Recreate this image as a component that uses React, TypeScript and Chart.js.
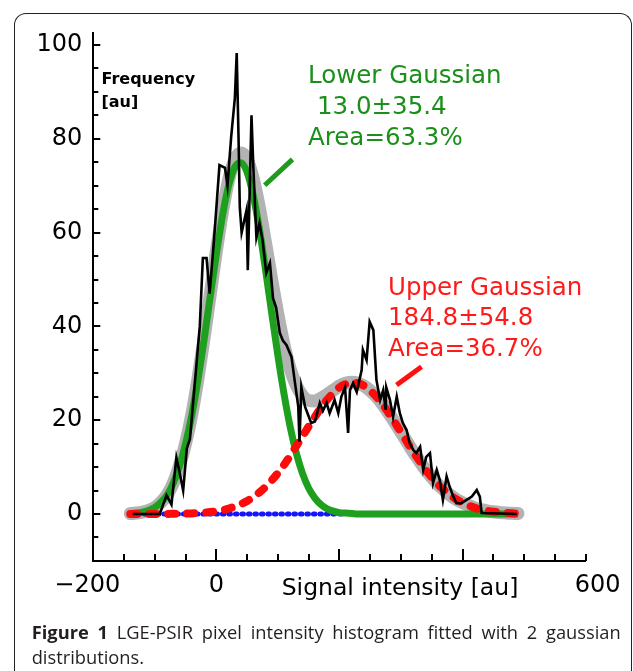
import React, { useEffect, useRef } from 'react';
import { Chart, registerables } from 'chart.js';

Chart.register(...registerables);

// ---------- data ----------
const fitX = [-140, -130, -120, -110, -100, -90, -80, -70, -60, -50, -40, -30, -20, -10, 0, 10, 20, 30, 40, 50, 60, 70, 80, 90, 100, 110, 120, 130, 140, 150, 160, 170, 180, 190, 200, 210, 220, 230, 240, 250, 260, 270, 280, 290, 300, 310, 320, 330, 340, 350, 360, 370, 380, 390, 400, 410, 420, 430, 440, 450, 460, 470, 480, 490];

const lowerGaussian = [0.1, 0.2, 0.4, 0.8, 1.4, 2.5, 4.1, 6.6, 10.2, 15.0, 21.1, 28.6, 37.2, 46.4, 55.5, 63.7, 70.1, 74.0, 74.9, 72.8, 67.8, 60.6, 51.9, 42.7, 33.7, 25.5, 18.5, 12.9, 8.6, 5.5, 3.4, 2.0, 1.1, 0.6, 0.3, 0.2, 0.1, 0, 0, 0, 0, 0, 0, 0, 0, 0, 0, 0, 0, 0, 0, 0, 0, 0, 0, 0, 0, 0, 0, 0, 0, 0, 0, 0];

const upperGaussian = [0, 0, 0, 0.01, 0.01, 0.01, 0.02, 0.04, 0.06, 0.09, 0.13, 0.2, 0.29, 0.42, 0.6, 0.84, 1.16, 1.57, 2.11, 2.78, 3.6, 4.61, 5.8, 7.18, 8.75, 10.5, 12.4, 14.5, 16.6, 18.7, 20.7, 22.7, 24.4, 25.8, 27.0, 27.7, 28.0, 27.9, 27.3, 26.3, 25.0, 23.4, 21.5, 19.5, 17.4, 15.3, 13.2, 11.3, 9.4, 7.8, 6.3, 5.1, 4.0, 3.1, 2.4, 1.8, 1.3, 0.95, 0.68, 0.48, 0.33, 0.23, 0.15, 0.1];

const fitSum = [0.1, 0.2, 0.4, 0.8, 1.4, 2.5, 4.1, 6.6, 10.3, 15.1, 21.2, 28.8, 37.5, 46.8, 56.1, 64.5, 71.3, 75.6, 77.0, 75.6, 71.4, 65.2, 57.7, 49.9, 42.5, 36.0, 30.9, 27.4, 25.2, 24.2, 24.1, 24.7, 25.5, 26.4, 27.3, 27.9, 28.1, 27.9, 27.3, 26.3, 25.0, 23.4, 21.5, 19.5, 17.4, 15.3, 13.2, 11.3, 9.4, 7.8, 6.3, 5.1, 4.0, 3.1, 2.4, 1.8, 1.3, 0.95, 0.68, 0.48, 0.33, 0.23, 0.15, 0.1];

const baselineX = [-138, 210];
const baselineY = [0, 0];

const histX = [-136, -92, -81, -73, -65, -60, -54, -48, -43, -35, -27, -22, -16, -11, -3, 5, 14, 18, 24, 30, 33, 36, 38, 41, 49, 51, 57, 60, 65, 70, 75, 81, 87, 92, 97, 103, 108, 114, 122, 127, 133, 135, 138, 144, 148, 154, 160, 168, 173, 179, 184, 192, 198, 203, 209, 214, 217, 222, 228, 236, 238, 244, 249, 255, 260, 266, 271, 275, 276, 282, 287, 293, 298, 303, 309, 314, 320, 325, 331, 336, 341, 347, 352, 358, 363, 368, 374, 379, 385, 390, 398, 415, 423, 428, 431, 488];
const histY = [0, 0, 4, 2, 12, 9, 5, 14, 16, 28, 40, 54.6, 54.6, 47, 60, 74.4, 73.8, 70, 80.4, 88.7, 98.3, 80, 65.5, 60, 64.8, 52, 85, 74, 59, 62, 58.4, 51.4, 53.5, 46, 44, 38.6, 37, 36, 33.5, 28.6, 22.9, 15.4, 27, 22.9, 21.5, 19.4, 19.7, 23.7, 22, 23.7, 21.5, 24.3, 21.5, 25, 27, 17.3, 26.4, 27.9, 26, 30.7, 35, 32.8, 41, 39.2, 28.6, 24.3, 26.4, 22.2, 27, 24.3, 20.7, 25, 21.5, 19.4, 17.9, 15.1, 13.6, 13, 14.3, 9.4, 12.2, 13, 6.6, 9.4, 7.2, 3, 8, 5.8, 3.7, 2.3, 2.3, 3.7, 5.1, 3.7, 0.2, 0];

// annotation pointer strokes (data units)
const lowerPointerX = [78.5, 123.6];
const lowerPointerY = [70.1, 75.6];
const upperPointerX = [292.7, 333.3];
const upperPointerY = [27.5, 31.4];

// axes
const xTickValues = [-200, 0, 200, 400, 600];
const xTickText = ['\u2212200\u2002', '0', '', '', '\u2002\u2002600'];
const yTickValues = [0, 20, 40, 60, 80, 100];
const yTickText = ['0', '20', '40', '60', '80', '100'];
const xMinorStep = 50;
const yMinorStep = 5;

const pts = (xs: number[], ys: number[]) => xs.map((x, i) => ({ x, y: ys[i] }));

const inwardTicks = {
  id: 'inwardTicks',
  afterDraw(chart: any) {
    const { ctx, scales, chartArea } = chart;
    const xs = scales.x;
    const ys = scales.y;
    ctx.save();
    ctx.strokeStyle = '#000';
    ctx.lineWidth = 2;
    ctx.beginPath();
    for (let v = xs.min + xMinorStep; v <= xs.max + 0.001; v += xMinorStep) {
      const px = Math.round(xs.getPixelForValue(v));
      const major = v % 200 === 0 && v < xs.max;
      const len = major ? 12 : 7;
      ctx.moveTo(px, chartArea.bottom);
      ctx.lineTo(px, chartArea.bottom - len);
    }
    for (let v = -5; v <= 100.001; v += yMinorStep) {
      const py = Math.round(ys.getPixelForValue(v));
      const major = v % 20 === 0;
      const len = major ? 7 : 5;
      ctx.moveTo(chartArea.left, py);
      ctx.lineTo(chartArea.left + len, py);
    }
    ctx.stroke();
    ctx.restore();
  },
};

export default function App() {
  const ref = useRef<HTMLCanvasElement>(null);

  useEffect(() => {
    const chart = new Chart(ref.current as HTMLCanvasElement, {
      type: 'line',
      data: {
        datasets: [
          {
            label: 'Histogram',
            data: pts(histX, histY),
            borderColor: '#000',
            borderWidth: 2.6,
            pointRadius: 0,
            tension: 0,
            order: 0,
          },
          {
            label: 'Lower pointer',
            data: pts(lowerPointerX, lowerPointerY),
            borderColor: '#1e9a1e',
            borderWidth: 5,
            pointRadius: 0,
            order: 1,
          },
          {
            label: 'Upper pointer',
            data: pts(upperPointerX, upperPointerY),
            borderColor: '#ff1010',
            borderWidth: 5,
            pointRadius: 0,
            order: 1,
          },
          {
            label: 'Upper Gaussian',
            data: pts(fitX, upperGaussian),
            borderColor: '#ff0a0a',
            borderWidth: 8,
            borderDash: [7, 12],
            borderCapStyle: 'round',
            pointRadius: 0,
            cubicInterpolationMode: 'monotone',
            order: 2,
          },
          {
            label: 'Lower Gaussian',
            data: pts(fitX, lowerGaussian),
            borderColor: '#1ea01e',
            borderWidth: 7,
            pointRadius: 0,
            cubicInterpolationMode: 'monotone',
            order: 3,
          },
          {
            label: 'Baseline',
            data: pts(baselineX, baselineY),
            borderColor: '#1414ff',
            borderWidth: 5,
            borderDash: [1.5, 5],
            borderCapStyle: 'round',
            pointRadius: 0,
            order: 4,
          },
          {
            label: 'Sum',
            data: pts(fitX, fitSum),
            borderColor: '#b3b3b3',
            borderWidth: 13,
            borderCapStyle: 'round',
            pointRadius: 0,
            cubicInterpolationMode: 'monotone',
            order: 5,
          },
        ],
      },
      options: {
        responsive: false,
        animation: false,
        devicePixelRatio: 1,
        layout: { padding: { left: 0, top: 33.3, right: 47.3, bottom: 0 } },
        plugins: { legend: { display: false }, tooltip: { enabled: false } },
        scales: {
          x: {
            type: 'linear',
            min: -200,
            max: 600,
            afterFit: (s: any) => {
              s.height = 110.1;
            },
            afterBuildTicks: (s: any) => {
              s.ticks = xTickValues.map((v) => ({ value: v }));
            },
            ticks: {
              autoSkip: false,
              maxRotation: 0,
              padding: 10,
              color: '#000',
              font: { family: 'DejaVu Sans', size: 24 },
              callback: (v: any) => xTickText[xTickValues.indexOf(Number(v))] ?? '',
            },
            grid: { display: false, drawTicks: false },
            border: { display: true, color: '#000', width: 2 },
          },
          y: {
            type: 'linear',
            min: -10,
            max: 102.5,
            afterFit: (s: any) => {
              s.width = 93.3;
            },
            afterBuildTicks: (s: any) => {
              s.ticks = yTickValues.map((v) => ({ value: v }));
            },
            ticks: {
              autoSkip: false,
              padding: 11,
              color: '#000',
              font: { family: 'DejaVu Sans', size: 24 },
              callback: (v: any) => yTickText[yTickValues.indexOf(Number(v))] ?? '',
            },
            grid: { display: false, drawTicks: false },
            border: { display: true, color: '#000', width: 2 },
          },
        },
      },
      plugins: [inwardTicks],
    } as any);
    return () => chart.destroy();
  }, []);

  const green = '#1a8f1a';
  const red = '#ff1a1a';
  const annoFont: React.CSSProperties = {
    fontFamily: '"DejaVu Sans", sans-serif',
    fontSize: 24.5,
    whiteSpace: 'nowrap',
  };

  return (
    <div
      style={{
        position: 'absolute',
        left: 0,
        top: 0,
        width: 633,
        height: 671,
        overflow: 'hidden',
        background: '#fff',
      }}
    >
      <div
        style={{
          position: 'absolute',
          left: 13.5,
          top: 13,
          width: 616,
          height: 720,
          border: '1.5px solid #222',
          borderBottom: 'none',
          borderRadius: '12px 12px 0 0',
        }}
      />
      <canvas
        ref={ref}
        width={633}
        height={671}
        style={{ position: 'absolute', left: 0, top: 0, width: 633, height: 671 }}
      />
      <div
        style={{
          position: 'absolute',
          left: 101.5,
          top: 66.5,
          fontFamily: '"DejaVu Sans", sans-serif',
          fontWeight: 'bold',
          fontSize: 16,
          lineHeight: '23px',
          color: '#000',
          whiteSpace: 'nowrap',
        }}
      >
        <div>Frequency</div>
        <div>[au]</div>
      </div>
      <div style={{ position: 'absolute', left: 308, top: 58.5, lineHeight: '31px', color: green, ...annoFont }}>
        <div>Lower Gaussian</div>
        <div style={{ marginLeft: 9 }}>13.0±35.4</div>
        <div>Area=63.3%</div>
      </div>
      <div style={{ position: 'absolute', left: 388, top: 271.75, lineHeight: '30.5px', color: red, ...annoFont }}>
        <div>Upper Gaussian</div>
        <div>184.8±54.8</div>
        <div>Area=36.7%</div>
      </div>
      <div
        style={{
          position: 'absolute',
          left: 281.7,
          top: 572,
          lineHeight: '30px',
          fontFamily: '"DejaVu Sans", sans-serif',
          fontSize: 23.5,
          color: '#000',
          whiteSpace: 'nowrap',
        }}
      >
        Signal intensity [au]
      </div>
      <div
        style={{
          position: 'absolute',
          left: 31.7,
          top: 619,
          width: 589,
          fontFamily: '"Open Sans", sans-serif',
          fontSize: 18.3,
          lineHeight: '25px',
          color: '#231f20',
          textAlign: 'justify',
        }}
      >
        <b>Figure 1</b> LGE-PSIR pixel intensity histogram fitted with 2 gaussian distributions.
      </div>
    </div>
  );
}
